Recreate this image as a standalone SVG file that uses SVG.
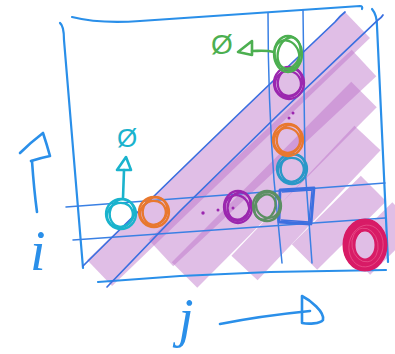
<svg xmlns="http://www.w3.org/2000/svg" width="395" height="354" viewBox="0 0 395 354">
<defs>
<style>
.frame{fill:none;stroke:#2a8fe9;stroke-width:2.2;stroke-linecap:round;stroke-linejoin:round}
.grid{fill:none;stroke:#3a80e4;stroke-width:1.5;stroke-linecap:round}
.diag{fill:none;stroke:#3a6fe0;stroke-width:1.7;stroke-linecap:round}
.band{stroke:#ba6fc8;stroke-opacity:0.45;stroke-width:36;stroke-linecap:butt;fill:none}
.loop{fill:none;stroke-width:2.3}
.arrow{fill:none;stroke-width:2.6;stroke-linecap:round;stroke-linejoin:round}
.dot{stroke:none}
.lbl{font-family:"Liberation Serif",serif;font-style:italic;fill:#2a8fe9}
.sym{font-family:"Liberation Sans",sans-serif;text-anchor:middle}
</style>
</defs>
<rect width="395" height="354" fill="#ffffff"/>

<g id="bands">
<line class="band" x1="99.6" y1="273" x2="357.5" y2="25"/>
<line class="band" x1="160.9" y1="253" x2="364" y2="63"/>
<line class="band" x1="184.5" y1="275" x2="364" y2="94.5"/>
<line class="band" x1="244.5" y1="268" x2="367.5" y2="138"/>
<line class="band" x1="304.5" y1="257" x2="373.5" y2="188.5"/>
<line class="band" x1="357.5" y1="262" x2="405" y2="215"/>
</g>

<g id="frame">
<path class="frame" d="M72,17 Q100,24 140,21 L360,6 Q363,6 362,9"/>
<path class="frame" d="M60,23 Q64,26 64,40 L83,268"/>
<path class="frame" d="M372,9 Q377,15 377,26 L388,262"/>
<path class="frame" d="M98,282 L180,276 L270,272 L386,270"/>
</g>

<g id="grid">
<path class="grid" d="M66,207 L385,183"/>
<path class="grid" d="M73,240 L385,218"/>
<path class="grid" d="M268,13 Q268,100 274,180 L282,263"/>
<path class="grid" d="M303,10 L305,167 L312,263"/>
<path class="diag" d="M83,266 Q200,150 335,22 Q340,16 345,12"/>
<path class="diag" d="M107,287 L180,211 L280,113 L378,20 Q382,17 383,15"/>
</g>

<g id="axis-i">
<path class="arrow" stroke="#2a8fe9" d="M37,212 Q34,190 32,161"/>
<path class="arrow" stroke="#2a8fe9" d="M20,153 Q30,143 43,133 Q47,145 50,156 Q40,158 31,161"/>
<text class="lbl" x="30" y="270" font-size="56">i</text>
</g>

<g id="axis-j">
<path class="arrow" stroke="#2a8fe9" d="M220,324 Q260,316 310,311"/>
<path class="arrow" stroke="#2a8fe9" d="M302,296 C310,300 325,312 323,320 C320,324 308,324 302,323 Z"/>
<text class="lbl" x="186" y="336" font-size="54" text-anchor="middle">j</text>
</g>

<g id="connectors">
<path class="arrow" stroke="#4caf50" d="M274,52 C266,50 259,51 252,51"/>
<path class="arrow" stroke="#4caf50" d="M252,41 L238,52 L252,55 Z"/>
<path class="arrow" stroke="#1ab3cd" d="M123,198 L124,170"/>
<path class="arrow" stroke="#1ab3cd" d="M117,170 L126,157 L131,170 Z"/>
</g>

<g id="empty-green">
<text class="sym" x="222" y="54" font-size="28" fill="#4caf50">Ø</text>
</g>
<g id="empty-cyan">
<text class="sym" x="127" y="147" font-size="26" fill="#1ab3cd">Ø</text>
</g>

<g id="cell-square">
<path fill="none" stroke="#3d6fe0" stroke-width="2.8" stroke-linejoin="round" d="M280,190 L314,188 L311,224 L279,222 Z"/>
<path fill="none" stroke="#3d6fe0" stroke-width="1.4" d="M282,192 L312,190 L309,222 L281,220"/>
</g>

<g id="row-cyan" stroke="#1ab3cd">
<ellipse class="loop" cx="121" cy="214" rx="15" ry="15"/>
<ellipse class="loop" cx="122" cy="213" rx="12" ry="14" transform="rotate(20 122 213)"/>
<ellipse class="loop" cx="120" cy="215" rx="13" ry="12" transform="rotate(-25 120 215)"/>
</g>
<g id="row-orange" stroke="#e8782f">
<ellipse class="loop" cx="154" cy="212" rx="15" ry="15"/>
<ellipse class="loop" cx="155" cy="211" rx="12" ry="14" transform="rotate(20 155 211)"/>
<ellipse class="loop" cx="153" cy="213" rx="13" ry="12" transform="rotate(-25 153 213)"/>
</g>
<g id="row-purple" stroke="#9b27af">
<ellipse class="loop" cx="238" cy="207" rx="14" ry="16"/>
<ellipse class="loop" cx="239" cy="206" rx="11" ry="14" transform="rotate(20 239 206)"/>
<ellipse class="loop" cx="237" cy="208" rx="12" ry="13" transform="rotate(-25 237 208)"/>
</g>
<g id="row-green" stroke="#5c8f63">
<ellipse class="loop" cx="267" cy="206" rx="14" ry="15"/>
<ellipse class="loop" cx="265" cy="207" rx="10" ry="13" transform="rotate(25 265 207)"/>
<ellipse class="loop" cx="268" cy="205" rx="12" ry="13" transform="rotate(-20 268 205)"/>
</g>
<g id="col-blue" stroke="#2b98c8">
<ellipse class="loop" cx="292" cy="169" rx="15" ry="15"/>
<ellipse class="loop" cx="293" cy="168" rx="12" ry="14" transform="rotate(20 293 168)"/>
<ellipse class="loop" cx="291" cy="170" rx="13" ry="12" transform="rotate(-25 291 170)"/>
</g>
<g id="col-orange" stroke="#e8782f">
<ellipse class="loop" cx="288" cy="140" rx="15" ry="16"/>
<ellipse class="loop" cx="289" cy="139" rx="12" ry="14" transform="rotate(20 289 139)"/>
<ellipse class="loop" cx="287" cy="141" rx="13" ry="13" transform="rotate(-25 287 141)"/>
</g>
<g id="col-purple" stroke="#9b27af">
<ellipse class="loop" cx="289" cy="83" rx="15" ry="16" stroke-width="3.2"/>
<ellipse class="loop" cx="290" cy="82" rx="12" ry="14" transform="rotate(20 290 82)"/>
<ellipse class="loop" cx="288" cy="84" rx="13" ry="13" transform="rotate(-25 288 84)"/>
</g>
<g id="col-green" stroke="#4caf50">
<ellipse class="loop" cx="288" cy="54" rx="14" ry="18" stroke-width="3.2"/>
<ellipse class="loop" cx="289" cy="53" rx="11" ry="16" transform="rotate(15 289 53)"/>
<ellipse class="loop" cx="287" cy="55" rx="12" ry="15" transform="rotate(-20 287 55)"/>
</g>
<g id="target-magenta">
<ellipse cx="365" cy="245" rx="16" ry="20" fill="none" stroke="#d81b66" stroke-width="13"/>
<ellipse cx="365" cy="245" rx="21" ry="25" fill="none" stroke="#d81b66" stroke-width="2"/>
<ellipse cx="366" cy="246" rx="17" ry="21" fill="none" stroke="#e8508a" stroke-width="0.8" transform="rotate(10 366 246)"/>
<ellipse cx="365" cy="245" rx="13" ry="17" fill="none" stroke="#e8508a" stroke-width="0.8" transform="rotate(-10 365 245)"/>
</g>

<g id="dots" fill="#9b27af">
<circle class="dot" cx="203" cy="213" r="1.7"/>
<circle class="dot" cx="218" cy="210" r="1.5"/>
<circle class="dot" cx="233" cy="208" r="1.5"/>
<circle class="dot" cx="293" cy="113" r="1.5"/>
<circle class="dot" cx="289" cy="118" r="1.5"/>
</g>
</svg>
